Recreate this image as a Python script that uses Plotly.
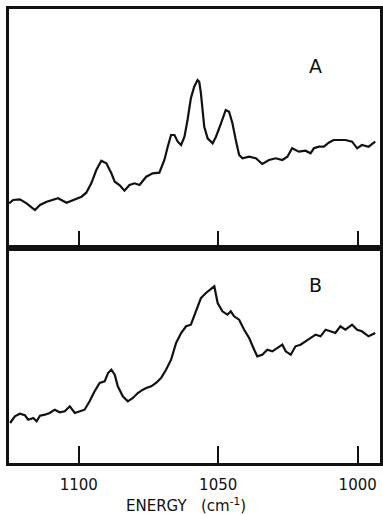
import plotly.graph_objects as go

# Spectrum A (top panel): energy (cm^-1) and intensity (arb. units)
energy_a = [1125.0, 1123.5, 1121.1, 1118.7, 1115.7, 1113.9, 1111.5, 1109.2, 1107.4, 1104.4,
            1102.0, 1099.0, 1097.3, 1095.5, 1093.7, 1091.9, 1090.1, 1088.3, 1087.1, 1085.4,
            1083.6, 1081.8, 1080.0, 1078.2, 1075.8, 1073.5, 1071.1, 1069.3, 1068.1, 1066.9,
            1065.7, 1064.5, 1063.3, 1062.1, 1061.0, 1059.8, 1058.6, 1057.4, 1056.8, 1056.2,
            1055.0, 1053.8, 1052.0, 1050.8, 1049.0, 1047.3, 1046.1, 1044.9, 1043.7, 1042.5,
            1041.3, 1038.9, 1036.5, 1034.2, 1031.8, 1029.4, 1027.0, 1025.2, 1023.5, 1021.1,
            1018.7, 1016.9, 1015.7, 1013.9, 1012.1, 1010.4, 1008.6, 1006.8, 1004.4, 1002.0,
            1000.2, 998.5, 996.1, 993.7]
intensity_a = [44.7, 48, 48.7, 44.7, 38, 43, 46.3, 48, 49.7, 45.3,
               48, 51.3, 55.3, 64.7, 78, 87.3, 84.7, 74.7, 66.3, 63,
               57.3, 63, 64.7, 63, 71.3, 74.7, 75.3, 88, 101.3, 113,
               113, 106.3, 103, 111.3, 128, 149.7, 161.3, 168, 166.3, 154.7,
               121.3, 109.7, 104.7, 111.3, 124.7, 138, 136.3, 124.7, 108, 93,
               89.7, 91.3, 89.7, 84, 88, 89.7, 88, 91.3, 99.7, 96.3,
               97.3, 94.7, 99.7, 101.3, 101.3, 105.3, 108, 108, 108, 106.3,
               99.7, 103, 101.3, 106.3]

# Spectrum B (bottom panel)
energy_b = [1124.6, 1122.9, 1121.1, 1119.3, 1118.1, 1116.3, 1115.1, 1113.9, 1112.1, 1110.4,
            1108.6, 1106.8, 1105.0, 1103.2, 1101.4, 1099.6, 1097.9, 1096.1, 1094.3, 1092.5,
            1090.7, 1089.5, 1088.3, 1087.1, 1086.0, 1084.2, 1082.4, 1080.6, 1078.8, 1077.0,
            1075.8, 1074.0, 1072.3, 1070.5, 1068.7, 1066.9, 1065.1, 1063.3, 1061.5, 1059.8,
            1058.0, 1056.2, 1054.4, 1052.6, 1051.4, 1050.2, 1048.5, 1046.7, 1045.5, 1044.3,
            1042.5, 1040.7, 1038.9, 1037.1, 1036.0, 1034.2, 1032.4, 1030.6, 1028.8, 1027.0,
            1025.8, 1024.0, 1022.3, 1020.5, 1018.7, 1016.9, 1015.1, 1013.3, 1011.5, 1009.8,
            1008.0, 1006.2, 1004.4, 1002.0, 1000.2, 998.5, 996.1, 993.7]
intensity_b = [40, 46.7, 49.3, 47.7, 43.3, 45, 41.7, 47.3, 48.3, 50,
               53.3, 50.7, 51.7, 56.7, 50, 51.7, 53.3, 61.7, 71.7, 80,
               81.7, 90, 93.3, 88.3, 76.7, 66.7, 61.7, 65, 70, 73.3,
               75, 76.7, 80, 85, 93.3, 103.3, 120, 130, 136.7, 138.3,
               151.7, 165, 170, 174, 176.7, 160, 151.7, 148.3, 151.7, 146.7,
               143.3, 133.3, 125, 113.3, 106.7, 108.3, 113.3, 111.7, 115, 118.3,
               111.7, 108.3, 116.7, 118.3, 121.7, 125, 128.3, 126.7, 133.3, 131.7,
               130, 136.7, 133.3, 138.3, 133.3, 131.7, 126.7, 130]

tick_vals = [1100, 1050, 1000]
tick_text = ["1100", "1050", "1000"]
panel_labels = ["A", "B"]

ink = "#111111"
fig = go.Figure()
fig.add_trace(go.Scatter(x=energy_a, y=intensity_a, mode="lines",
                         line=dict(color=ink, width=2.2), xaxis="x", yaxis="y",
                         showlegend=False, hoverinfo="skip"))
fig.add_trace(go.Scatter(x=energy_b, y=intensity_b, mode="lines",
                         line=dict(color=ink, width=2.2), xaxis="x2", yaxis="y2",
                         showlegend=False, hoverinfo="skip"))

split = 215 / 454
xcommon = dict(range=[1125, 992], showgrid=False, zeroline=False, showline=True,
               linecolor=ink, linewidth=2.5, mirror=True, ticks="inside",
               ticklen=17, tickwidth=2, tickcolor=ink, tickvals=tick_vals)
ycommon = dict(showgrid=False, zeroline=False, showline=True, linecolor=ink,
               linewidth=2.5, mirror=True, showticklabels=False, ticks="")

fig.update_layout(
    width=383, height=515,
    margin=dict(l=9, r=3, t=9, b=52, autoexpand=False),
    paper_bgcolor="white", plot_bgcolor="white",
    font=dict(family="DejaVu Sans", color=ink),
    xaxis=dict(**xcommon, anchor="y", showticklabels=False),
    yaxis=dict(**ycommon, domain=[split, 1], range=[0, 239], anchor="x"),
    xaxis2=dict(**xcommon, anchor="y2", ticktext=tick_text, showticklabels=True,
                tickfont=dict(size=15, family="DejaVu Sans", color=ink),
                ticklabelstandoff=6),
    yaxis2=dict(**ycommon, domain=[0, split], range=[0, 215], anchor="x2"),
    annotations=[
        dict(text=panel_labels[0], xref="paper", yref="paper", x=0.827, y=0.874,
             xanchor="center", yanchor="middle",
             showarrow=False, font=dict(size=19, color=ink)),
        dict(text=panel_labels[1], xref="paper", yref="paper", x=0.827, y=0.392,
             xanchor="center", yanchor="middle",
             showarrow=False, font=dict(size=19, color=ink)),
        dict(text="ENERGY   (cm<sup>-1</sup>)", xref="paper", yref="paper",
             x=0.477, y=-0.092, xanchor="center", yanchor="middle", showarrow=False,
             font=dict(size=15, color=ink)),
    ],
)

fig.write_html("out.html", config={"displayModeBar": False},
               post_script="document.body.style.margin='0';document.body.style.overflow='hidden';")
